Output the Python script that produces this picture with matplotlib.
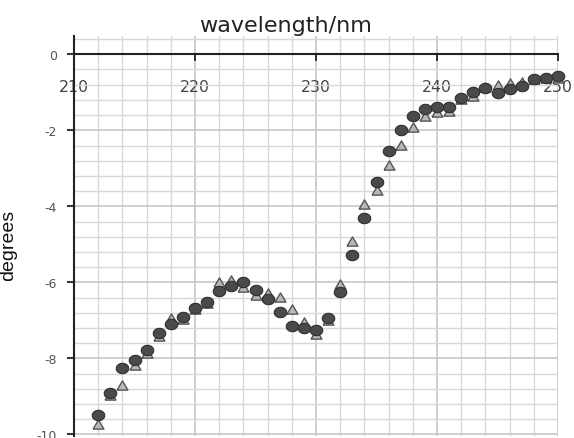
import numpy as np
import matplotlib
matplotlib.use("Agg")
import matplotlib.pyplot as plt
from matplotlib.ticker import MultipleLocator

wavelength = list(range(212, 251))
series_circle = [-9.50, -8.91, -8.25, -8.05, -7.79, -7.33, -7.10, -6.92, -6.68, -6.52,
                 -6.23, -6.09, -6.00, -6.20, -6.45, -6.78, -7.14, -7.20, -7.25, -6.93,
                 -6.25, -5.28, -4.30, -3.37, -2.54, -1.99, -1.63, -1.44, -1.39, -1.38,
                 -1.16, -0.98, -0.90, -1.01, -0.92, -0.84, -0.65, -0.63, -0.58]
series_triangle = [-9.73, -8.95, -8.70, -8.18, -7.87, -7.42, -6.94, -6.95, -6.71, -6.55,
                   -5.99, -5.94, -6.13, -6.33, -6.27, -6.39, -6.71, -7.05, -7.36, -7.00,
                   -6.03, -4.91, -3.95, -3.57, -2.91, -2.38, -1.92, -1.63, -1.51, -1.50,
                   -1.19, -1.09, -0.85, -0.81, -0.76, -0.72, -0.64, -0.62, -0.62]
x_ticks = [210, 220, 230, 240, 250]
y_ticks = [-10, -8, -6, -4, -2, 0]
title = "wavelength/nm"
ylabel = "degrees"

fig = plt.figure(figsize=(5.74, 4.39), dpi=100)
ax = fig.add_axes([74/574, 1-437/439, 484/574, 400/439])

ax.set_xlim(210, 250)
ax.set_ylim(-10.04, 0.48)

# custom markers
t = np.linspace(0, 2*np.pi, 60)
ellipse = np.column_stack([np.cos(t), 0.83*np.sin(t)])
tri = [(-1, -0.85), (1, -0.85), (0, 0.85), (-1, -0.85)]

ax.plot(wavelength, series_triangle, linestyle='none', marker=tri, markersize=7.8,
        markerfacecolor='#b8b8b8', markeredgecolor='#555555', markeredgewidth=1.0,
        clip_on=False, zorder=3)
ax.plot(wavelength, series_circle, linestyle='none', marker=ellipse, markersize=9.0,
        markerfacecolor='#4a4a4a', markeredgecolor='#303030', markeredgewidth=0.8,
        clip_on=False, zorder=4)

ax.set_xticks(x_ticks)
ax.set_xticklabels([str(v) for v in x_ticks])
ax.set_yticks(y_ticks)
ax.set_yticklabels([str(v) for v in y_ticks])
ax.xaxis.set_minor_locator(MultipleLocator(2))
ax.yaxis.set_minor_locator(MultipleLocator(0.4))

ax.set_axisbelow(True)
ax.grid(which='minor', color='#d8d8d8', linewidth=1.0)
ax.grid(which='major', color='#c2c2c2', linewidth=1.1)

for s in ['top', 'right']:
    ax.spines[s].set_visible(False)
ax.spines['bottom'].set_position(('data', 0))
ax.spines['bottom'].set_linewidth(1.5)
ax.spines['bottom'].set_color('#222222')
ax.spines['left'].set_linewidth(1.5)
ax.spines['left'].set_color('#222222')

ax.tick_params(which='minor', length=0)
ax.tick_params(axis='x', which='major', direction='out', length=5, width=1.3,
               color='#222222', labelsize=11.3, labelcolor='#444444', pad=13)
ax.tick_params(axis='y', which='major', direction='out', length=5, width=1.3,
               color='#222222', labelsize=9, labelcolor='#555555', pad=7.5)

ax.set_ylabel(ylabel, fontsize=14, family='Liberation Sans', color='#111111')
ax.yaxis.set_label_coords(-0.118, 0.48)

fig.text(285/574, 1-32/439, title, fontsize=16, color='#222222',
         ha='center', va='baseline')

fig.savefig("out.png", dpi=100)
